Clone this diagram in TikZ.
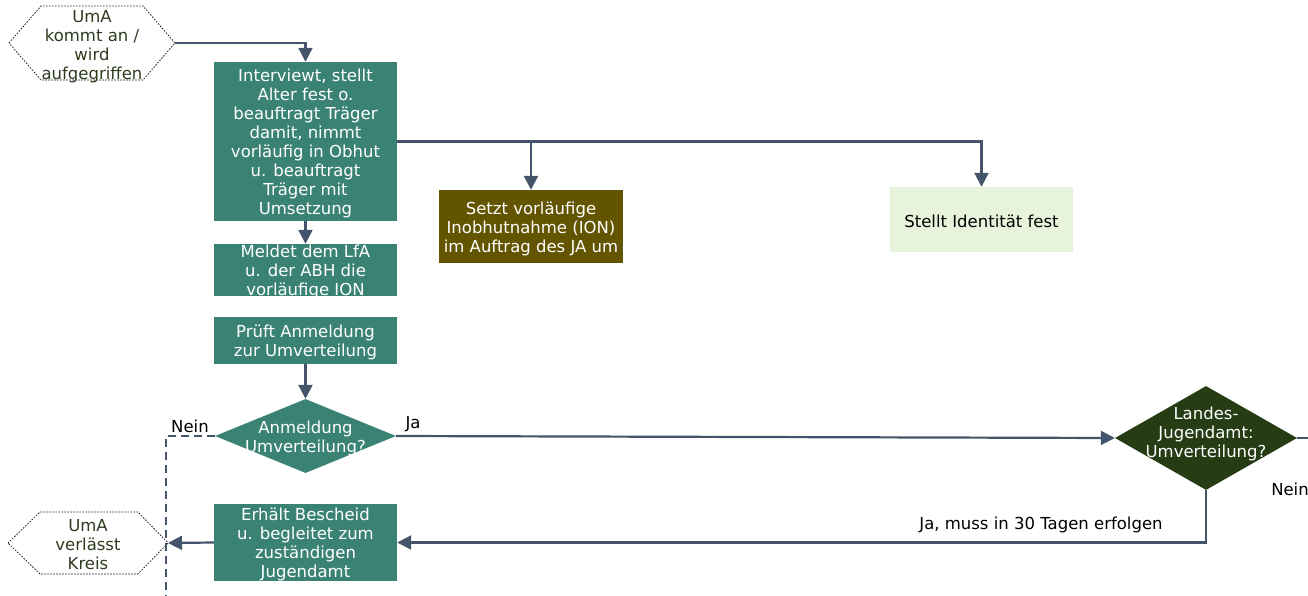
\documentclass[tikz,border=0pt]{standalone}
\usepackage{fontspec}
\setmainfont{DejaVu Sans}
\usetikzlibrary{shapes.geometric,arrows.meta}

\definecolor{boxteal}{RGB}{58,131,116}
\definecolor{boxolive}{RGB}{99,85,0}
\definecolor{boxpale}{RGB}{232,243,220}
\definecolor{diadark}{RGB}{38,60,20}
\definecolor{linecol}{RGB}{68,84,106}
\definecolor{hextxt}{RGB}{46,59,31}

\begin{document}
\begin{tikzpicture}[x=1pt,y=-1pt,
  every node/.style={font=\fontsize{16.5}{19}\selectfont},
  stepbox/.style={rectangle, fill=boxteal, text=white, minimum width=183pt,
                  inner sep=0pt, align=center},
  diabox/.style={diamond, inner sep=0pt},
  wtext/.style={text=white, align=center, inner sep=0pt},
  hextext/.style={text=hextxt, align=center, inner sep=0pt},
  hexline/.style={draw=black!85, line width=0.8pt, dash pattern=on 1.6pt off 1.4pt},
  lbl/.style={text=black, inner sep=0pt},
  wire/.style={draw=linecol, line width=2.2pt},
  conn/.style={wire, -{Triangle[length=14pt,width=14pt]}},
  ]
\useasboundingbox (0,0) rectangle (1308,596);

% start / end terminals
\draw[hexline] (9,43) -- (41,6) -- (143,6) -- (175,43) -- (143,80) -- (41,80) -- cycle;
\coordinate (h1) at (175,43);
\node[hextext] (h1t) at (92,46.5) {UmA\\kommt an /\\wird\\aufgegriffen};

\draw[hexline] (8,543) -- (40,512) -- (138,512) -- (168,543) -- (138,574) -- (40,574) -- cycle;
\coordinate (h2) at (168,543);
\node[hextext] (h2t) at (88,544.5) {UmA\\verlässt\\Kreis};

% process boxes
\node[stepbox, minimum height=159pt] (b1) at (305.5,141.5) {};
\node[wtext] (b1t) at (305.5,143)
  {Interviewt, stellt\\Alter fest o.\\beauftragt Träger\\damit, nimmt\\vorläufig in Obhut\\u. beauftragt\\Träger mit\\Umsetzung};
\node[stepbox, minimum height=52pt] (b2) at (305.5,270) {};
\node[wtext] (b2t) at (305.5,272) {Meldet dem LfA\\u. der ABH die\\vorläufige ION};
\node[stepbox, minimum height=47pt] (b3) at (305.5,340.5) {};
\node[wtext] (b3t) at (305.5,342) {Prüft Anmeldung\\zur Umverteilung};
\node[stepbox, minimum height=77pt] (b6) at (305.5,542.5) {};
\node[wtext] (b6t) at (305.5,544.5)
  {Erhält Bescheid\\u. begleitet zum\\zuständigen\\Jugendamt};

\node[rectangle, fill=boxolive, inner sep=0pt,
      minimum width=184pt, minimum height=73pt] (b4) at (531,226.5) {};
\node[wtext] (b4t) at (531,228.5) {Setzt vorläufige\\Inobhutnahme (ION)\\im Auftrag des JA um};
\node[rectangle, fill=boxpale, text=black, align=center, inner sep=0pt,
      minimum width=183pt, minimum height=65pt] (b5) at (981.5,219.5) {};
\node[lbl] (b5t) at (981.5,221.5) {Stellt Identität fest};

% decisions
\node[diabox, fill=boxteal, minimum width=181pt, minimum height=74pt] (d1) at (305.5,436) {};
\node[wtext] (d1t) at (305.5,438.5) {Anmeldung\\Umverteilung?};
\node[diabox, fill=diadark, minimum width=182pt, minimum height=104pt] (d2) at (1206,438) {};
\node[wtext] (d2t) at (1206,433.5) {Landes-\\Jugendamt:\\Umverteilung?};

% connectors
\draw[conn] (h1) -| (b1.north);
\draw[conn] (b1.south) -- (b2.north);
\draw[conn] (b1.east) -| (b4.north);
\draw[conn] (b1.east) -| (b5.north);
\draw[conn] (b3.south) -- (d1.north);
\draw[conn] (d1.east) -- (d2.west);
\coordinate (rx) at (1308,438);
\draw[wire] (d2.east) -- (rx);
\draw[conn] (d2.south) |- (b6.east);
\draw[conn] (b6.west) -- (h2);
\coordinate (dn) at (166,596);
\draw[wire, dash pattern=on 8pt off 5pt] (d1.west) -| (dn);

% labels
\node[lbl] (lnein1) at (190,426) {Nein};
\node[lbl] (lja1) at (413,424) {Ja};
\node[lbl] (lnein2) at (1290,489) {Nein};
\node[lbl] (lja2) at (1041,524.5) {Ja, muss in 30 Tagen erfolgen};
\end{tikzpicture}
\end{document}
